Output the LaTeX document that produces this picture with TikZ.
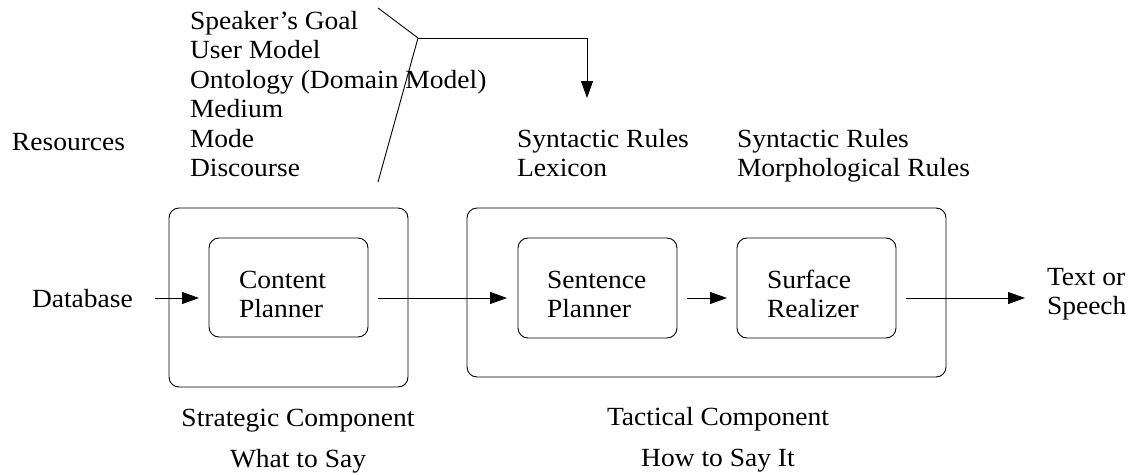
\documentclass[tikz,border=0pt]{standalone}
\usepackage{fontspec}
\setmainfont{Liberation Serif}[FakeStretch=1.05]
\usetikzlibrary{arrows.meta}
% left-aligned and centred stacks whose baseline is the first line
\newcommand{\txtlines}[1]{\begin{tabular}[t]{@{}l@{}}#1\end{tabular}}
\newcommand{\txtcentre}[1]{\begin{tabular}[t]{@{}c@{}}#1\end{tabular}}
\begin{document}
\begin{tikzpicture}[x=1pt,y=-1pt,
  every node/.style={font=\fontsize{26.2}{29.5}\selectfont, inner sep=0pt, outer sep=0pt},
  box/.style={draw, line width=0.9pt, rounded corners=10pt},
  txt/.style={anchor=base west},
  arr/.style={line width=0.9pt, -{Triangle[length=17pt,width=12pt]}},
  wire/.style={line width=0.9pt}]
\useasboundingbox (0,0) rectangle (1137,474);

% component frames
\node[box, minimum width=239pt, minimum height=179pt] (strat) at (288.5,297.5) {};
\node[box, minimum width=479pt, minimum height=169pt] (tact) at (706.5,292.5) {};

% processing modules
\node[box, minimum width=159pt, minimum height=99pt] (cp) at (288.5,287.5) {};
\node[box, minimum width=159pt, minimum height=100pt] (sp) at (597.5,288) {};
\node[box, minimum width=159pt, minimum height=100pt] (sr) at (816.5,288) {};

\node[txt] (cptext) at (239,288) {\txtlines{Content\\Planner}};
\node[txt] (sptext) at (547,288) {\txtlines{Sentence\\Planner}};
\node[txt] (srtext) at (767,288) {\txtlines{Surface\\Realizer}};

% resources
\node[txt] (res) at (12,150) {Resources};
\node[txt] (src) at (190,29) {\txtlines{Speaker's Goal\\User Model\\Ontology (Domain Model)\\Medium\\Mode\\Discourse}};
\node[txt] (sprules) at (517,147) {\txtlines{Syntactic Rules\\Lexicon}};
\node[txt] (srrules) at (737,147) {\txtlines{Syntactic Rules\\Morphological Rules}};

% input and output
\node[txt] (db) at (32,307) {Database};
\node[txt] (out) at (1047,285) {\txtlines{Text or\\Speech}};

% component captions
\node[anchor=base] (stratcap) at (298,426) {\txtcentre{Strategic Component\\[11.5pt]What to Say}};
\node[anchor=base] (tactcap) at (718,425) {\txtcentre{Tactical Component\\[11.5pt]How to Say It}};

% main flow
\coordinate (flow) at (0,298);
\draw[arr, shorten <=22pt, shorten >=10pt] (db.east |- flow) -- (cp.west |- flow);
\draw[arr, shorten <=10pt, shorten >=11pt] (cp.east |- flow) -- (sp.west |- flow);
\draw[arr, shorten <=10pt, shorten >=10pt] (sp.east |- flow) -- (sr.west |- flow);
\draw[arr, shorten <=10pt, shorten >=22pt] (sr.east |- flow) -- (out.west |- flow);

% resources feeding the sentence planner
\coordinate (fork) at (418,38);
\coordinate (fa) at (378,8);
\coordinate (fb) at (378,182);
\coordinate (ftip) at (587,98);
\draw[wire] (fa) -- (fork) -- (fb);
\draw[arr] (fork) -| (ftip);
\end{tikzpicture}
\end{document}
